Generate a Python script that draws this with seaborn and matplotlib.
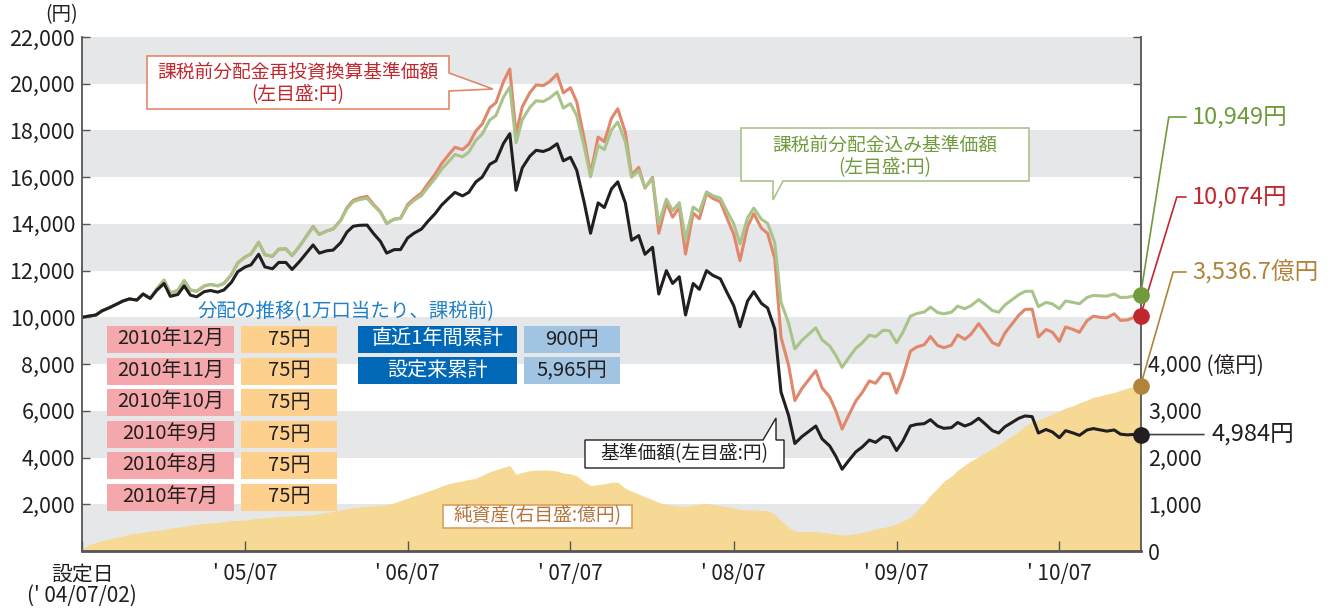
import matplotlib
matplotlib.use('Agg')
import matplotlib.pyplot as plt
import matplotlib.dates as mdates
import seaborn as sns
import pandas as pd
from matplotlib.patches import Rectangle, Polygon

# 基準価額 (semi-monthly, yen)
nav = [10000, 10050, 10100, 10280, 10420, 10550, 10700, 10790, 10740, 11000,
       10810, 11150, 11450, 10900, 10980, 11350, 10950, 10880, 11100, 11150,
       11080, 11170, 11500, 11950, 12150, 12250, 12700, 12160, 12080, 12350,
       12350, 12050, 12400, 12730, 13100, 12750, 12850, 12880, 13200, 13650,
       13900, 13940, 13950, 13600, 13250, 12750, 12900, 12900, 13400, 13600,
       13780, 14100, 14450, 14800, 15100, 15350, 15200, 15350, 15800, 16000,
       16550, 16700, 17450, 17860, 15440, 16400, 16900, 17150, 17100, 17200,
       17430, 16700, 16850, 16300, 14900, 13600, 14900, 14700, 15500, 15800,
       14900, 13300, 13500, 12700, 13000, 11000, 12000, 11450, 11740, 10100,
       11450, 11200, 12000, 11800, 11650, 11100, 10500, 9600, 10700, 11100,
       10600, 10400, 9500, 6800, 5800, 4600, 4900, 5100, 5350, 4800,
       4500, 4050, 3500, 3850, 4250, 4450, 4750, 4650, 4900, 4850,
       4300, 4700, 5350, 5420, 5450, 5620, 5350, 5250, 5280, 5500,
       5350, 5450, 5680, 5450, 5150, 5050, 5320, 5480, 5680, 5780,
       5750, 5050, 5200, 5100, 4850, 5150, 5050, 4950, 5180, 5240,
       5180, 5130, 5180, 5000, 4970, 4990, 4984]

# 課税前分配金込み基準価額
nav_dist = [10000, 10050, 10100, 10280, 10420, 10550, 10700, 10790, 10740, 11000,
            10810, 11210, 11600, 11050, 11160, 11570, 11170, 11120, 11350, 11410,
            11350, 11450, 11830, 12320, 12570, 12710, 13200, 12680, 12620, 12910,
            12930, 12650, 13050, 13430, 13860, 13550, 13700, 13780, 14150, 14650,
            14950, 15040, 15100, 14800, 14500, 14030, 14210, 14240, 14770, 15000,
            15210, 15560, 15950, 16340, 16670, 16970, 16870, 17070, 17580, 17840,
            18440, 18640, 19430, 19860, 17470, 18460, 18990, 19270, 19240, 19380,
            19650, 18960, 19150, 18640, 17280, 16020, 17350, 17180, 18020, 18360,
            17520, 16000, 16280, 15560, 15940, 14000, 15060, 14570, 14910, 13320,
            14720, 14530, 15370, 15210, 15100, 14580, 14010, 13140, 14260, 14680,
            14200, 14020, 13200, 10650, 9750, 8650, 9020, 9260, 9550, 9040,
            8780, 8370, 7860, 8250, 8680, 8910, 9240, 9170, 9450, 9430,
            8910, 9350, 10050, 10160, 10230, 10440, 10210, 10150, 10220, 10480,
            10370, 10500, 10760, 10560, 10290, 10220, 10530, 10730, 10970, 11110,
            11120, 10460, 10640, 10580, 10370, 10700, 10640, 10580, 10850, 10940,
            10920, 10910, 11000, 10850, 10860, 10920, 10949]

# 課税前分配金再投資換算基準価額
nav_reinv = [10000, 10050, 10100, 10280, 10420, 10550, 10700, 10790, 10740, 11000,
             10810, 11190, 11590, 11040, 11150, 11570, 11170, 11110, 11340, 11410,
             11350, 11450, 11830, 12330, 12580, 12720, 13220, 12680, 12610, 12920,
             12930, 12640, 13050, 13440, 13890, 13550, 13700, 13780, 14160, 14700,
             15010, 15110, 15180, 14850, 14520, 14010, 14200, 14240, 14830, 15080,
             15320, 15710, 16140, 16580, 16960, 17280, 17180, 17410, 17980, 18270,
             18970, 19190, 20100, 20630, 17860, 19010, 19620, 19950, 19920, 20090,
             20410, 19610, 19830, 19230, 17630, 16130, 17720, 17520, 18520, 18930,
             17920, 16080, 16420, 15530, 15990, 13600, 14900, 14290, 14710, 12710,
             14470, 14220, 15300, 15090, 14950, 14290, 13560, 12430, 13890, 14440,
             13820, 13590, 12520, 9150, 7950, 6440, 6960, 7300, 7720, 6980,
             6600, 5990, 5220, 5780, 6430, 6780, 7280, 7180, 7610, 7580,
             6760, 7450, 8550, 8730, 8830, 9180, 8800, 8700, 8810, 9250,
             9060, 9280, 9730, 9380, 8920, 8800, 9330, 9670, 10090, 10340,
             10350, 9160, 9480, 9370, 8970, 9590, 9480, 9360, 9860, 10050,
             10000, 9980, 10150, 9870, 9890, 10000, 10074]

# 純資産 (億円)
assets = [30, 130, 180, 220, 260, 290, 320, 360, 380, 400,
          420, 440, 460, 490, 510, 530, 550, 570, 590, 600,
          610, 630, 650, 655, 660, 680, 700, 710, 720, 735,
          740, 750, 760, 765, 775, 800, 820, 850, 880, 905,
          925, 940, 955, 965, 980, 995, 1030, 1080, 1130, 1180,
          1230, 1280, 1330, 1390, 1440, 1470, 1500, 1530, 1555, 1620,
          1695, 1740, 1790, 1830, 1640, 1680, 1720, 1730, 1735, 1730,
          1710, 1670, 1650, 1610, 1480, 1400, 1420, 1440, 1470, 1470,
          1340, 1280, 1220, 1160, 1100, 1040, 1000, 980, 960, 950,
          980, 1000, 1020, 990, 970, 950, 920, 890, 880, 880,
          870, 860, 790, 650, 500, 430, 410, 420, 415, 400,
          380, 360, 345, 345, 370, 400, 430, 470, 500, 530,
          580, 640, 720, 850, 1030, 1190, 1340, 1490, 1600, 1730,
          1840, 1930, 2010, 2100, 2190, 2270, 2360, 2450, 2560, 2680,
          2760, 2810, 2870, 2940, 3000, 3060, 3110, 3170, 3230, 3290,
          3320, 3360, 3390, 3440, 3490, 3520, 3536.7]

dist_month = ['2010年12月', '2010年11月', '2010年10月', '2010年9月', '2010年8月', '2010年7月']
dist_amount = [75, 75, 75, 75, 75, 75]
total_label = ['直近1年間累計', '設定来累計']
total_value = [900, 5965]

tick_dates = ['2004-07-01', '2005-07-01', '2006-07-01', '2007-07-01',
              '2008-07-01', '2009-07-01', '2010-07-01']
tick_labels = ["設定日\n(' 04/07/02)", "' 05/07", "' 06/07", "' 07/07",
               "' 08/07", "' 09/07", "' 10/07"]

dates = list(pd.date_range('2004-07-01', periods=156, freq='SMS')) + [pd.Timestamp('2010-12-30')]
df = pd.DataFrame({'date': dates, 'nav': nav, 'nav_dist': nav_dist,
                   'nav_reinv': nav_reinv, 'assets': assets})

sns.set_theme(style='white')
plt.rcParams['font.family'] = ['Noto Sans CJK JP', 'DejaVu Sans']

W, H = 1333, 608
fig = plt.figure(figsize=(W / 100, H / 100), dpi=100)


def fx(x):
    return x / W


def fy(y):
    return 1 - y / H


ax = fig.add_axes([fx(82), fy(551), fx(1141) - fx(82), fy(37) - fy(551)])
ax2 = ax.twinx()
ax.set_zorder(2)
ax2.set_zorder(1)
ax.patch.set_visible(False)
ax2.patch.set_visible(True)
ax2.patch.set_facecolor('white')

GREEN_L, GREEN_D = '#a9c48a', '#6f9b3d'
ORANGE_L, RED = '#e1876b', '#c1272d'
TAN_L, TAN_D = '#f5d994', '#b0843a'
BLACK = '#231f20'

# grey bands and net assets area (right scale)
for lo in range(0, 11000, 2000):
    ax2.axhspan(lo, lo + 1000, color='#e6e7e8', lw=0, zorder=0)
ax2.fill_between(df['date'], 0, df['assets'], color=TAN_L, lw=0, zorder=1)

sns.lineplot(data=df, x='date', y='nav_reinv', ax=ax, color=ORANGE_L, lw=2.2, legend=False, estimator=None)
sns.lineplot(data=df, x='date', y='nav_dist', ax=ax, color=GREEN_L, lw=2.2, legend=False, estimator=None)
sns.lineplot(data=df, x='date', y='nav', ax=ax, color=BLACK, lw=2.2, legend=False, estimator=None)

ax.set_xlim(pd.Timestamp('2004-07-01'), pd.Timestamp('2010-12-31'))
ax.set_ylim(0, 22000)
ax2.set_ylim(0, 11000)
ax.set_xlabel('')
ax.set_ylabel('')
ax2.set_ylabel('')

yl = list(range(0, 22001, 2000))
ax.set_yticks(yl)
ax.set_yticklabels(['' if v == 0 else f'{v:,}' for v in yl])
yr = list(range(0, 11001, 1000))
ax2.set_yticks(yr)
ax2.set_yticklabels([f'{v:,}' if v < 4000 else ('4,000 (億円)' if v == 4000 else '') for v in yr])
ax.set_xticks(pd.to_datetime(tick_dates))
ax.set_xticklabels(tick_labels)
ax.get_xticklabels()[0].set_linespacing(0.95)

ax.tick_params(axis='y', direction='in', length=6, width=1, color='#555555',
               labelsize=15.5, labelcolor=BLACK, pad=5, left=True)
ax.tick_params(axis='x', direction='in', length=7, width=1, color='#555555',
               labelsize=15, labelcolor=BLACK, pad=9, bottom=True)
ax2.tick_params(axis='y', direction='in', length=6, width=1, color='#555555',
                labelsize=15.5, labelcolor=BLACK, pad=5, right=True)

for s in ax2.spines.values():
    s.set_visible(False)
ax.spines['top'].set_visible(False)
for k in ['left', 'right']:
    ax.spines[k].set_color('#555555')
    ax.spines[k].set_linewidth(1.3)
ax.spines['bottom'].set_color('#555555')
ax.spines['bottom'].set_linewidth(2.0)

# end-point dots
end = mdates.date2num(df['date'].iloc[-1])
ax.plot([end], [nav_dist[-1]], 'o', ms=11, color=GREEN_D, clip_on=False, zorder=10)
ax.plot([end], [nav_reinv[-1]], 'o', ms=11, color=RED, clip_on=False, zorder=10)
ax.plot([end], [assets[-1]], 'o', ms=11, color=TAN_D, clip_on=False, zorder=10,
        transform=ax2.transData)
ax.plot([end], [nav[-1]], 'o', ms=11, color=BLACK, clip_on=False, zorder=10)

# connectors and value labels
for val, ly, col, ang, txt, tr in [
        (nav_dist[-1], 117, GREEN_D, 81, f'{nav_dist[-1]:,}円', ax.transData),
        (nav_reinv[-1], 197, RED, 73, f'{nav_reinv[-1]:,}円', ax.transData),
        (assets[-1], 272, TAN_D, 74, f'{assets[-1]:,.1f}億円', ax2.transData)]:
    ax.annotate('', xy=(end, val), xycoords=tr, xytext=(fx(1186), fy(ly)),
                textcoords='figure fraction', annotation_clip=False,
                arrowprops=dict(arrowstyle='-', color=col, lw=1.2, shrinkA=0, shrinkB=0,
                                connectionstyle=f'angle,angleA=0,angleB={ang},rad=0'))
    fig.text(fx(1192), fy(ly), txt, color=col, fontsize=17, ha='left', va='center')

ax.annotate('', xy=(end, nav[-1]), xycoords='data', xytext=(fx(1204), nav[-1]),
            textcoords=('figure fraction', 'data'), annotation_clip=False,
            arrowprops=dict(arrowstyle='-', color='#444444', lw=1.2, shrinkA=0, shrinkB=0))
ax.annotate(f'{nav[-1]:,}円', xy=(fx(1211), nav[-1]), xycoords=('figure fraction', 'data'),
            fontsize=17, color=BLACK, ha='left', va='center', annotation_clip=False)

fig.text(fx(62), fy(15), '(円)', fontsize=14, color=BLACK, ha='center', va='center')


def callout(pts, ec, lw=1.2):
    fig.add_artist(Polygon([(fx(x), fy(y)) for x, y in pts], closed=True,
                           transform=fig.transFigure, fc='white', ec=ec, lw=lw, zorder=5))


callout([(147, 56), (449, 56), (449, 73), (493, 89), (449, 91), (449, 109), (147, 109)], ORANGE_L)
fig.text(fx(298), fy(72), '課税前分配金再投資換算基準価額', color=RED, fontsize=13.5,
         ha='center', va='center', zorder=6)
fig.text(fx(298), fy(95), '(左目盛:円)', color=RED, fontsize=13.5, ha='center', va='center', zorder=6)

callout([(741, 128), (1029, 128), (1029, 181), (783, 181), (773, 200), (773, 181), (741, 181)], GREEN_L)
fig.text(fx(885), fy(145), '課税前分配金込み基準価額', color=GREEN_D, fontsize=13.5,
         ha='center', va='center', zorder=6)
fig.text(fx(885), fy(168), '(左目盛:円)', color=GREEN_D, fontsize=13.5, ha='center', va='center', zorder=6)

callout([(585, 440), (763, 440), (776, 418), (776, 440), (784, 440), (784, 468), (585, 468)], BLACK, 1.0)
fig.text(fx(684), fy(454), '基準価額(左目盛:円)', color=BLACK, fontsize=13.5,
         ha='center', va='center', zorder=6)

callout([(443, 505), (632, 505), (632, 528), (443, 528)], '#d9a05b')
fig.text(fx(537), fy(516), '純資産(右目盛:億円)', color='#b8733a', fontsize=13.5,
         ha='center', va='center', zorder=6)

# distribution table
fig.text(fx(346), fy(312), '分配の推移(1万口当たり、課税前)', color='#1f80c8', fontsize=14,
         ha='center', va='center', zorder=6)


def cell(x0, x1, y0, y1, fc, txt, tc):
    fig.add_artist(Rectangle((fx(x0), fy(y1)), fx(x1) - fx(x0), fy(y0) - fy(y1),
                             transform=fig.transFigure, fc=fc, lw=0, zorder=5))
    fig.text(fx((x0 + x1) / 2), fy((y0 + y1) / 2), txt, color=tc, fontsize=14.5,
             ha='center', va='center', zorder=6)


for i, (m, a) in enumerate(zip(dist_month, dist_amount)):
    top = 326 + i * 31.5
    cell(107, 234, top, top + 27, '#f5a8ab', m, BLACK)
    cell(241, 337, top, top + 27, '#fdd08e', f'{a}円', BLACK)

for i, (lab, v) in enumerate(zip(total_label, total_value)):
    top = 326 + i * 31
    cell(358, 517, top, top + 27, '#0068b7', lab, 'white')
    cell(524, 620, top, top + 27, '#a0c4e2', f'{v:,}円', BLACK)

fig.savefig('out.png', dpi=100)
